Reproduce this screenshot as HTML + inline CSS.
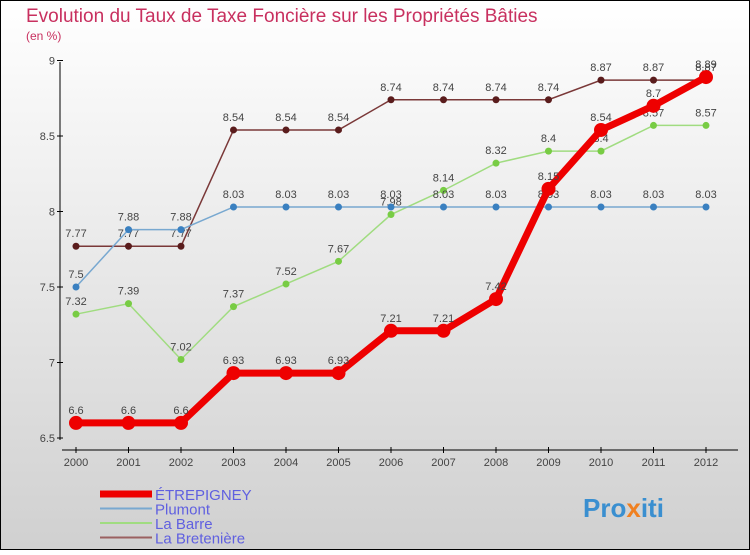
<!DOCTYPE html>
<html><head><meta charset="utf-8"><style>
body{margin:0;width:750px;height:550px;overflow:hidden;font-family:"Liberation Sans",sans-serif}
</style></head><body>
<svg width="750" height="550" xmlns="http://www.w3.org/2000/svg">
<defs><linearGradient id="bg" x1="0" y1="0" x2="0" y2="1"><stop offset="0" stop-color="#ffffff"/><stop offset="1" stop-color="#d0d0d0"/></linearGradient></defs>
<rect x="0.5" y="0.5" width="749" height="549" fill="url(#bg)" stroke="#000"/>
<text x="26" y="22" font-size="19" fill="#c8305f">Evolution du Taux de Taxe Foncière sur les Propriétés Bâties</text>
<text x="26" y="40" font-size="12" fill="#c8305f">(en %)</text>
<g id="axes"></g><g id="series"></g><g id="legend"></g>
<text x="583" y="517" font-size="26" font-weight="bold" fill="#3a8fd0">Pro<tspan fill="#f08020">x</tspan>iti</text>
</svg>
<script>
const years=[2000,2001,2002,2003,2004,2005,2006,2007,2008,2009,2010,2011,2012];
const yTicks=[6.5,7,7.5,8,8.5,9];
const seriesNames=["ÉTREPIGNEY","Plumont","La Barre","La Bretenière"];
const etrepigney=[6.6,6.6,6.6,6.93,6.93,6.93,7.21,7.21,7.42,8.15,8.54,8.7,8.89];
const plumont=[7.5,7.88,7.88,8.03,8.03,8.03,8.03,8.03,8.03,8.03,8.03,8.03,8.03];
const laBarre=[7.32,7.39,7.02,7.37,7.52,7.67,7.98,8.14,8.32,8.4,8.4,8.57,8.57];
const bretenière=[7.77,7.77,7.77,8.54,8.54,8.54,8.74,8.74,8.74,8.74,8.87,8.87,8.87];
const NS="http://www.w3.org/2000/svg";
const xs=i=>76+i*52.5;
const ys=v=>438-(v-6.5)*151;
function mk(t,a,p){const e=document.createElementNS(NS,t);for(const k in a)e.setAttribute(k,a[k]);p.appendChild(e);return e;}
const ax=document.getElementById('axes');
let l=mk('line',{x1:60,y1:62,x2:60,y2:440,stroke:'#000'},ax);


yTicks.forEach(v=>{
 let t=mk('line',{x1:57,x2:63,y1:ys(v),y2:ys(v),stroke:'#000'},ax);
 
 
 let tx=mk('text',{x:55,y:ys(v)+4,'text-anchor':'end','font-size':11,fill:'#444'},ax);tx.textContent=String(v);
 
 
});
l=mk('line',{x1:62,y1:450,x2:738,y2:450,stroke:'#000'},ax);


years.forEach((y,i)=>{
 let t=mk('line',{x1:xs(i),x2:xs(i),y1:447,y2:453,stroke:'#000'},ax);
 
 
 let tx=mk('text',{x:xs(i),y:466,'text-anchor':'middle','font-size':11,fill:'#444'},ax);tx.textContent=y;
 
 
});
const sg=document.getElementById('series');
const defs=[
 {d:bretenière,c:'#7a3838',p:'#5a1c1c',w:1.5,r:3.5,n:'la-bretenière'},
 {d:laBarre,c:'#a0dc80',p:'#78cc44',w:1.5,r:3.5,n:'la-barre'},
 {d:plumont,c:'#78a8d0',p:'#3a80c0',w:1.5,r:3.5,n:'plumont'},
 {d:etrepigney,c:'#ee0000',p:'#ee0000',w:7,r:7,n:'etrepigney'}];
defs.forEach(s=>{
 let pl=mk('polyline',{points:s.d.map((v,i)=>xs(i)+','+ys(v)).join(' '),fill:'none',stroke:s.c,'stroke-width':s.w},sg);
 
 
 s.d.forEach((v,i)=>{
  let c=mk('circle',{cx:xs(i),cy:ys(v),r:s.r,fill:s.p},sg);
  
  
  let t=mk('text',{x:xs(i),y:ys(v)-9,'text-anchor':'middle','font-size':11,fill:'#444'},sg);t.textContent=String(v);
  
  
 });
});
const lg=document.getElementById('legend');
const lc=['#ee0000','#78a8d0','#a0dc80','#9a6060'],lw=[7,2,2,2];
seriesNames.forEach((n,i)=>{
 let yy=494+i*14.5;
 let ln=mk('line',{x1:100,x2:152,y1:yy,y2:yy,stroke:lc[i],'stroke-width':lw[i]},lg);
 
 
 let t=mk('text',{x:155,y:yy+6,'font-size':15,fill:'#6060e0'},lg);t.textContent=n;
 
 
});
</script>
</body></html>
